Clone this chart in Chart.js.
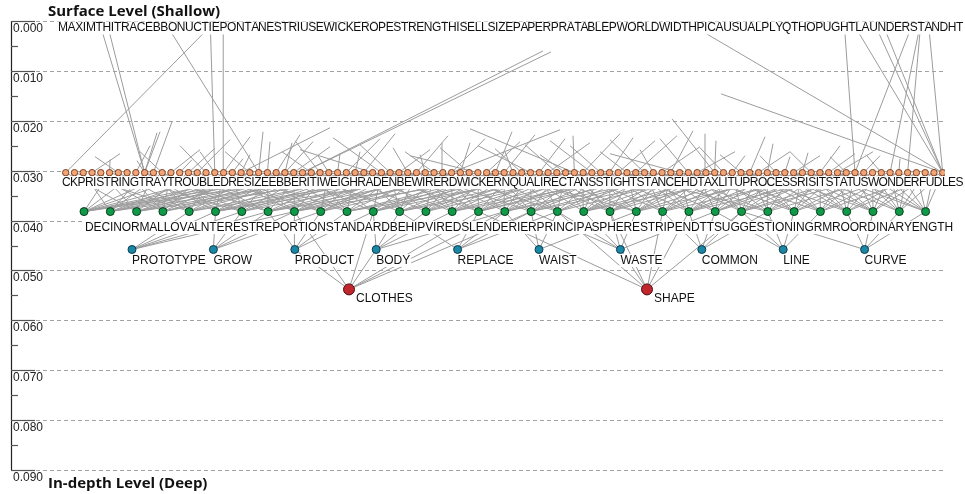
<!DOCTYPE html>
<html lang="en">
<head>
<meta charset="UTF-8">
<title>Surface to in-depth levels</title>
<script src="https://cdn.jsdelivr.net/npm/chart.js@4.4.0/dist/chart.umd.min.js"></script>
<style>
  html, body { margin: 0; padding: 0; background: #fff; }
  canvas { display: block; }
</style>
</head>
<body>
<canvas id="myChart" width="965" height="494"></canvas>
<script>
// depth of each level: top letters, orange, green, blue, red
var levelDepths = [0.000, 0.0304, 0.0382, 0.0458, 0.0538];
var yTicks = [0.00, 0.01, 0.02, 0.03, 0.04, 0.05, 0.06, 0.07, 0.08, 0.09];

var topText = "MAXIMTHITRACEBBONUCTIEPONTANESTRIUSEWICKEROPESTRENGTHISELLSIZEPAPERPRATABLEPWORLDWIDTHPICAUSUALPLYQTHOPUGHTLAUNDERSTANDHT";
var orangeText = "CKPRISTRINGTRAYTROUBLEDRESIZEEBBERITIWEIGHRADENBEWIRERDWICKERNQUALIRECTANSSTIGHTSTANCEHDTAXLITUPROCESSRISITSTATUSWONDERFUDLES";
var greenText = "DECINORMALLOVALNTERESTREPORTIONSTANDARDBEHIPVIREDSLENDERIERPRINCIPASPHERESTRIPENDTTSUGGESTIONINGRMROORDINARYENGTH";
var orangeCount = 101;
var greenCount = 33;
var blueLabels = ["PROTOTYPE", "GROW", "PRODUCT", "BODY", "REPLACE", "WAIST", "WASTE", "COMMON", "LINE", "CURVE"];
var redLabels = ["CLOTHES", "SHAPE"];

// orange node -> letter of the top text
var topLinks = [[9, 5], [9, 6], [22, 14], [17, 20], [0, 21], [18, 22], [100, 84],
  [90, 105], [100, 106], [100, 109], [100, 110], [90, 114], [94, 115], [96, 115], [100, 116]];

// orange node -> open end [orange, x, depth]
var openLinks = [[27, 543, 0.0060], [27, 551, 0.0062], [100, 721, 0.0146], [74, 672, 0.0196],
  [10, 172, 0.0202], [9, 157, 0.0224], [9, 160, 0.0222],
  [9, 137, 0.0280], [13, 192, 0.0278], [12, 200, 0.0258], [15, 230, 0.0238], [20, 250, 0.0268],
  [22, 263, 0.0222], [23, 270, 0.0242], [25, 292, 0.0244], [25, 313, 0.0242], [36, 333, 0.0234],
  [39, 393, 0.0254], [33, 360, 0.0262], [43, 442, 0.0244], [45, 470, 0.0244], [41, 420, 0.0268],
  [49, 512, 0.0222], [60, 550, 0.0240], [58, 573, 0.0230], [55, 590, 0.0244], [62, 633, 0.0234],
  [65, 677, 0.0230], [69, 693, 0.0220], [73, 705, 0.0226], [74, 716, 0.0240], [78, 765, 0.0232],
  [80, 773, 0.0246], [84, 808, 0.0264], [86, 840, 0.0250], [88, 873, 0.0262], [30, 318, 0.0270],
  [28, 282, 0.0262], [35, 300, 0.0258], [47, 410, 0.0270], [51, 505, 0.0262], [53, 478, 0.0250],
  [57, 540, 0.0268], [67, 640, 0.0258], [70, 610, 0.0266], [76, 745, 0.0270], [82, 790, 0.0272],
  [5, 110, 0.0278], [17, 200, 0.0262], [19, 243, 0.0276], [31, 340, 0.0266], [95, 900, 0.0276],
  [14, 215, 0.0255], [16, 180, 0.0250], [18, 250, 0.0232], [21, 225, 0.0262], [24, 300, 0.0228],
  [26, 330, 0.0252], [29, 295, 0.0240], [32, 380, 0.0236], [34, 395, 0.0226], [37, 360, 0.0248],
  [38, 430, 0.0258], [40, 448, 0.0230], [42, 405, 0.0262], [44, 485, 0.0236], [46, 440, 0.0254],
  [48, 520, 0.0242], [50, 535, 0.0228], [52, 495, 0.0256], [54, 565, 0.0236], [56, 525, 0.0248],
  [59, 620, 0.0226], [61, 570, 0.0250], [63, 655, 0.0240], [64, 600, 0.0262], [66, 610, 0.0238],
  [68, 700, 0.0252], [71, 660, 0.0236], [72, 735, 0.0262], [75, 700, 0.0254], [77, 720, 0.0268],
  [79, 790, 0.0262], [81, 760, 0.0270], [83, 820, 0.0270], [85, 790, 0.0262], [87, 855, 0.0266],
  [89, 830, 0.0272], [91, 880, 0.0270], [93, 866, 0.0268], [11, 140, 0.0262], [8, 150, 0.0250],
  [6, 95, 0.0272], [3, 120, 0.0266], [20, 330, 0.0214], [44, 560, 0.0218], [58, 470, 0.0216]];

// green node j -> orange nodes
var greenLinks = [
  [5, 8, 12, 15, 19, 23, 26, 29, 33], [2, 9, 11, 17, 21, 25, 29, 35], [0, 4, 10, 14, 20, 24, 28, 33, 38],
  [3, 7, 12, 16, 21, 27, 31, 35], [1, 6, 10, 17, 22, 26, 30, 36, 41], [9, 13, 18, 25, 29, 34, 38, 40, 45],
  [5, 11, 19, 24, 28, 33, 37, 43], [9, 14, 23, 27, 32, 37, 41, 45, 50], [17, 20, 26, 30, 35, 39, 43, 47, 52],
  [15, 21, 30, 34, 38, 40, 44, 49], [19, 24, 28, 33, 38, 42, 50, 53, 58], [25, 29, 36, 41, 46, 49, 52, 56],
  [27, 34, 37, 40, 43, 49, 53, 57, 61], [31, 36, 42, 45, 48, 51, 55, 60], [33, 38, 41, 44, 48, 51, 54, 58, 62, 67],
  [35, 39, 43, 47, 51, 54, 57, 60, 64, 66], [41, 45, 50, 53, 56, 59, 63, 68, 71], [40, 46, 49, 53, 56, 59, 62, 65, 70, 74],
  [43, 48, 51, 54, 57, 61, 65, 68, 73], [52, 56, 59, 61, 64, 67, 69, 72, 76, 80], [51, 55, 58, 62, 65, 69, 71, 74, 78],
  [49, 54, 60, 64, 68, 71, 73, 75, 79, 84], [58, 62, 66, 69, 73, 75, 78, 81, 87], [61, 65, 67, 70, 74, 77, 79, 82, 85, 90],
  [64, 68, 72, 75, 77, 80, 84, 86, 89], [68, 71, 73, 76, 79, 81, 84, 87, 91, 94], [63, 69, 74, 78, 80, 83, 86, 89, 95],
  [71, 75, 77, 79, 84, 86, 88, 92, 96], [73, 78, 80, 82, 86, 89, 91, 95, 99], [77, 81, 83, 85, 88, 90, 93, 97, 100],
  [80, 83, 85, 87, 90, 92, 94, 97, 99], [84, 87, 90, 92, 94, 96, 98, 100], [86, 88, 91, 93, 95, 97, 99, 100]];

// blue node k -> green nodes
var blueLinks = [
  [4, 5, 6, 7, 8], [5, 6, 7, 8, 9], [7, 8, 9, 10, 11], [11, 12, 13, 14, 16], [12, 15, 16, 17, 18],
  [16, 17, 18, 21], [17, 18, 19, 20, 21, 24], [22, 23, 24, 25, 26], [24, 25, 26, 27, 28], [25, 29, 30, 31, 32]];

// red node -> [level (3 blue, 2 green), node]
var redLinks = [
  [0, 2, 8], [0, 2, 11], [0, 2, 15], [0, 2, 16], [0, 2, 17], [0, 3, 2], [0, 3, 3],
  [1, 2, 15], [1, 2, 18], [1, 2, 20], [1, 2, 22], [1, 2, 23], [1, 2, 25], [1, 3, 6]];

// ---- layout / style ----
var labelFont = "12px 'Liberation Sans', Arial, sans-serif";
var titleFont = "bold 15px 'Open Sans', sans-serif";
var layout = {
  orange: { first: 65.7, step: 8.77 },
  green: { first: 84, step: 26.3 },
  blue: { first: 132, step: 81.4 },
  red: { first: 349, step: 298 },
  topRow: { left: 58, right: 963, dy: 7 },
  orangeRow: { left: 62, right: 963, dy: 10 },
  greenRow: { left: 85, right: 953, dy: 16 },
  blueLabel: { dx: 0, dy: 11 },
  redLabel: { dx: 7, dy: 9 }
};

var mctx = document.createElement("canvas").getContext("2d");
mctx.font = labelFont;
function rowChars(text, left, right) {
  var full = mctx.measureText(text).width;
  var s = (right - left) / full;
  var out = [];
  for (var k = 0; k < text.length; k++) {
    var pre = mctx.measureText(text.slice(0, k)).width;
    var w = mctx.measureText(text[k]).width;
    out.push({ ch: text[k], x: left + pre * s, w: w * s });
  }
  return out;
}
var topChars = rowChars(topText, layout.topRow.left, layout.topRow.right);
var orangeChars = rowChars(orangeText, layout.orangeRow.left, layout.orangeRow.right);
var greenChars = rowChars(greenText, layout.greenRow.left, layout.greenRow.right);

function posX(level, i) { return layout[level].first + i * layout[level].step; }
function topX(k) { return topChars[k].x + topChars[k].w / 2; }

function nodes(level, n, depth) {
  var arr = [];
  for (var i = 0; i < n; i++) arr.push({ x: posX(level, i), y: depth });
  return arr;
}

var segs = [];
function addSeg(x1, y1, x2, y2) {
  segs.push({ x: x1, y: y1 }, { x: x2, y: y2 }, { x: x2, y: null });
}
topLinks.forEach(function (l) { addSeg(posX("orange", l[0]), levelDepths[1], topX(l[1]), levelDepths[0]); });
openLinks.forEach(function (l) { addSeg(posX("orange", l[0]), levelDepths[1], l[1], l[2]); });
greenLinks.forEach(function (list, j) {
  list.forEach(function (i) { addSeg(posX("green", j), levelDepths[2], posX("orange", i), levelDepths[1]); });
});
blueLinks.forEach(function (list, k) {
  list.forEach(function (j) { addSeg(posX("blue", k), levelDepths[3], posX("green", j), levelDepths[2]); });
});
redLinks.forEach(function (l) {
  var lvl = l[1] == 3 ? "blue" : "green";
  addSeg(posX("red", l[0]), levelDepths[4], posX(lvl, l[2]), levelDepths[l[1]]);
});

function drawRow(ctx, chars, py, dy) {
  var first = chars[0], last = chars[chars.length - 1];
  ctx.fillStyle = "#fff";
  ctx.fillRect(first.x - 1, py + dy - 6.5, last.x + last.w - first.x + 2, 13);
  ctx.fillStyle = "#111";
  chars.forEach(function (c) { ctx.fillText(c.ch, c.x, py + dy); });
}
function drawLabels(ctx, labels, level, depth, off, x, y) {
  labels.forEach(function (t, i) {
    var px = x.getPixelForValue(posX(level, i)) + off.dx;
    var py = y.getPixelForValue(depth) + off.dy;
    var w = ctx.measureText(t).width;
    ctx.fillStyle = "#fff";
    ctx.fillRect(px - 1, py - 6.5, w + 2, 13);
    ctx.fillStyle = "#111";
    ctx.fillText(t, px, py);
  });
}

var depthAxis = {
  id: "depthAxis",
  beforeDatasetsDraw: function (chart) {
    var ctx = chart.ctx, y = chart.scales.y;
    ctx.save();
    ctx.strokeStyle = "#a3a3a3";
    ctx.lineWidth = 1;
    ctx.setLineDash([4, 3]);
    yTicks.forEach(function (v) {
      var py = Math.round(y.getPixelForValue(v)) + 0.5;
      ctx.beginPath();
      ctx.moveTo(36, py);
      ctx.lineTo(945, py);
      ctx.stroke();
    });
    ctx.restore();
  },
  afterDatasetsDraw: function (chart) {
    var ctx = chart.ctx, x = chart.scales.x, y = chart.scales.y;
    ctx.save();
    ctx.font = labelFont;
    ctx.textBaseline = "middle";
    ctx.textAlign = "left";
    drawRow(ctx, topChars, y.getPixelForValue(levelDepths[0]), layout.topRow.dy);
    drawRow(ctx, orangeChars, y.getPixelForValue(levelDepths[1]), layout.orangeRow.dy);
    drawRow(ctx, greenChars, y.getPixelForValue(levelDepths[2]), layout.greenRow.dy);
    drawLabels(ctx, blueLabels, "blue", levelDepths[3], layout.blueLabel, x, y);
    drawLabels(ctx, redLabels, "red", levelDepths[4], layout.redLabel, x, y);

    // axis, ticks, tick labels
    var top = y.getPixelForValue(0), bottom = y.getPixelForValue(0.09);
    ctx.strokeStyle = "#222";
    ctx.lineWidth = 1.2;
    ctx.beginPath();
    ctx.moveTo(11.5, top);
    ctx.lineTo(11.5, bottom);
    ctx.stroke();
    ctx.strokeStyle = "#555";
    yTicks.forEach(function (v, i) {
      var py = Math.round(y.getPixelForValue(v)) + 0.5;
      ctx.beginPath();
      ctx.moveTo(11, py);
      ctx.lineTo(35, py);
      ctx.stroke();
      if (i < yTicks.length - 1) {
        var pm = Math.round(y.getPixelForValue(v + 0.005)) + 0.5;
        ctx.beginPath();
        ctx.moveTo(11, pm);
        ctx.lineTo(18, pm);
        ctx.stroke();
      }
      ctx.fillStyle = "#222";
      ctx.fillText(v.toFixed(3), 13, py + 7);
    });

    ctx.font = titleFont;
    ctx.fillStyle = "#111";
    ctx.textBaseline = "alphabetic";
    ctx.fillText("Surface Level (Shallow)", 48, 16);
    ctx.fillText("In-depth Level (Deep)", 48, 488);
    ctx.restore();
  }
};

new Chart("myChart", {
  type: "scatter",
  data: {
    datasets: [
      { data: segs, showLine: true, spanGaps: false, pointRadius: 0, borderColor: "#9c9c9c", borderWidth: 1, order: 10 },
      { data: nodes("orange", orangeCount, levelDepths[1]), pointRadius: 3.2, backgroundColor: "#f2a476", borderColor: "#7a4326", borderWidth: 1, order: 3 },
      { data: nodes("green", greenCount, levelDepths[2]), pointRadius: 4, backgroundColor: "#0f9a48", borderColor: "#0b3a1c", borderWidth: 1, order: 2 },
      { data: nodes("blue", blueLabels.length, levelDepths[3]), pointRadius: 4, backgroundColor: "#1b87a6", borderColor: "#0c3a48", borderWidth: 1, order: 1 },
      { data: nodes("red", redLabels.length, levelDepths[4]), pointRadius: 5.5, backgroundColor: "#c0272d", borderColor: "#4d0d10", borderWidth: 1, order: 0 }
    ]
  },
  options: {
    responsive: false,
    animation: false,
    events: [],
    layout: { padding: { left: 10, right: 20, top: 21, bottom: 24 } },
    scales: {
      x: { type: "linear", min: 10, max: 945, display: false },
      y: { type: "linear", min: 0, max: 0.09, reverse: true, display: false }
    },
    plugins: { legend: { display: false }, tooltip: { enabled: false } }
  },
  plugins: [depthAxis]
});
</script>
</body>
</html>
